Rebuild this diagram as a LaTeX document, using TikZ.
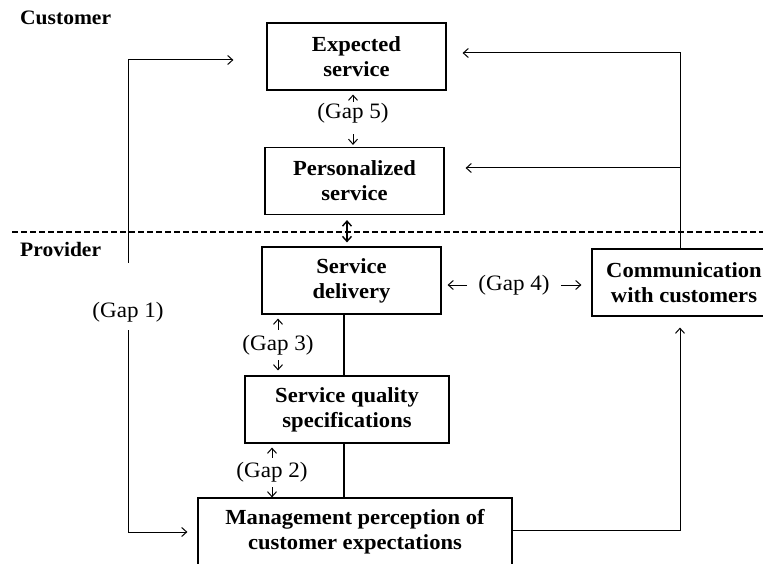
\documentclass[tikz,border=0pt]{standalone}
\usepackage{fontspec}
\setmainfont{Liberation Serif}[FakeStretch=1.05]
\usepackage{tikz}
\usetikzlibrary{arrows.meta}

\begin{document}
\begin{tikzpicture}[x=1pt, y=-1pt, >={Straight Barb[length=5pt, width=9pt]},
        box/.style={draw, line width=1.2pt, align=center, inner sep=0pt, minimum height=67pt,
            font=\fontsize{21.5}{25}\selectfont\bfseries},
        gaplbl/.style={inner sep=1pt, font=\fontsize{22}{24}\selectfont},
        side/.style={anchor=west, inner sep=0pt, font=\fontsize{20.5}{22}\selectfont\bfseries},
        link/.style={line width=1.2pt},
        arr/.style={line width=1pt, ->}]
            \clip (0,0) rectangle (763,564);

            \node[side] (cust) at (20,18) {Customer};
            \node[side] (prov) at (20,249) {Provider};

            \node[box, minimum width=179pt] (exp) at (356.5,56.5) {Expected\\service};
            \node[box, minimum width=179pt] (pers) at (354.5,181) {Personalized\\service};
            \node[box, minimum width=179pt] (deliv) at (351.5,280.5) {Service\\delivery};
            \node[box, minimum width=184pt] (comm) at (684,282.5) {Communication\\with customers};
            \node[box, minimum width=204pt] (qual) at (347,409.5) {Service quality\\specifications};
            \node[box, minimum width=314pt, minimum height=68pt] (mgmt) at (355,532) {Management perception of\\customer expectations};

            % line between the two sides
            \coordinate (divl) at (12,232);
            \coordinate (divr) at (763,232);
            \draw [line width=1.2pt, dash pattern=on 6pt off 3pt] (divl) -- (divr);

            \node[gaplbl] (gap1) at (128,312) {(Gap 1)};
            \node[gaplbl] (gap2) at (272,472) {(Gap 2)};
            \node[gaplbl] (gap3) at (278,345) {(Gap 3)};
            \node[gaplbl] (gap4) at (514,285) {(Gap 4)};
            \node[gaplbl] (gap5) at (353,113) {(Gap 5)};

            \draw [arr, shorten <=38pt, shorten >=33pt] (gap1.north) |- ([yshift=-3.5pt]exp.west);
            \draw [arr, shorten <=7pt, shorten >=10pt] (gap1.south) |- (mgmt.west);

            \draw [arr, shorten >=4pt] (gap5.north) -- (gap5.north |- exp.south);
            \draw [arr, shorten <=10pt, shorten >=2pt] (gap5.south) -- (gap5.south |- pers.north);
            \draw [arr, <->, line width=1.4pt, shorten <=5pt, shorten >=4pt] ([xshift=-7.5pt]pers.south) -- ([xshift=-4.5pt]deliv.north);

            \draw [arr, shorten <=10pt, shorten >=6pt] (gap4.west) -- (gap4.west -| deliv.east);
            \draw [arr, shorten <=10pt, shorten >=10pt] (gap4.east) -- (gap4.east -| comm.west);

            \draw [arr, shorten <=4pt, shorten >=4pt] (gap3.north) -- (gap3.north |- deliv.south);
            \draw [arr, shorten <=4pt, shorten >=5pt] (gap3.south) -- (gap3.south |- qual.north);
            \draw [arr, shorten <=3pt, shorten >=4pt] (gap2.north) -- (gap2.north |- qual.south);
            \draw [arr, shorten <=4pt] (gap2.south) -- (gap2.south |- mgmt.north);

            \draw [link] ([xshift=-3pt]qual.north) -- ([xshift=-3pt]qual.north |- deliv.south);
            \draw [link] ([xshift=-3pt]qual.south) -- ([xshift=-3pt]qual.south |- mgmt.north);

            \draw [arr, shorten >=16pt] ([xshift=-4pt]comm.north) |- ([yshift=3.5pt]exp.east);
            \draw [arr, shorten >=21pt] ([xshift=-4pt]comm.north) |- ([yshift=13pt]pers.east);
            \draw [arr, shorten >=11pt] ([yshift=2pt]mgmt.east) -| ([xshift=-4pt]comm.south);
        \end{tikzpicture}
\end{document}
